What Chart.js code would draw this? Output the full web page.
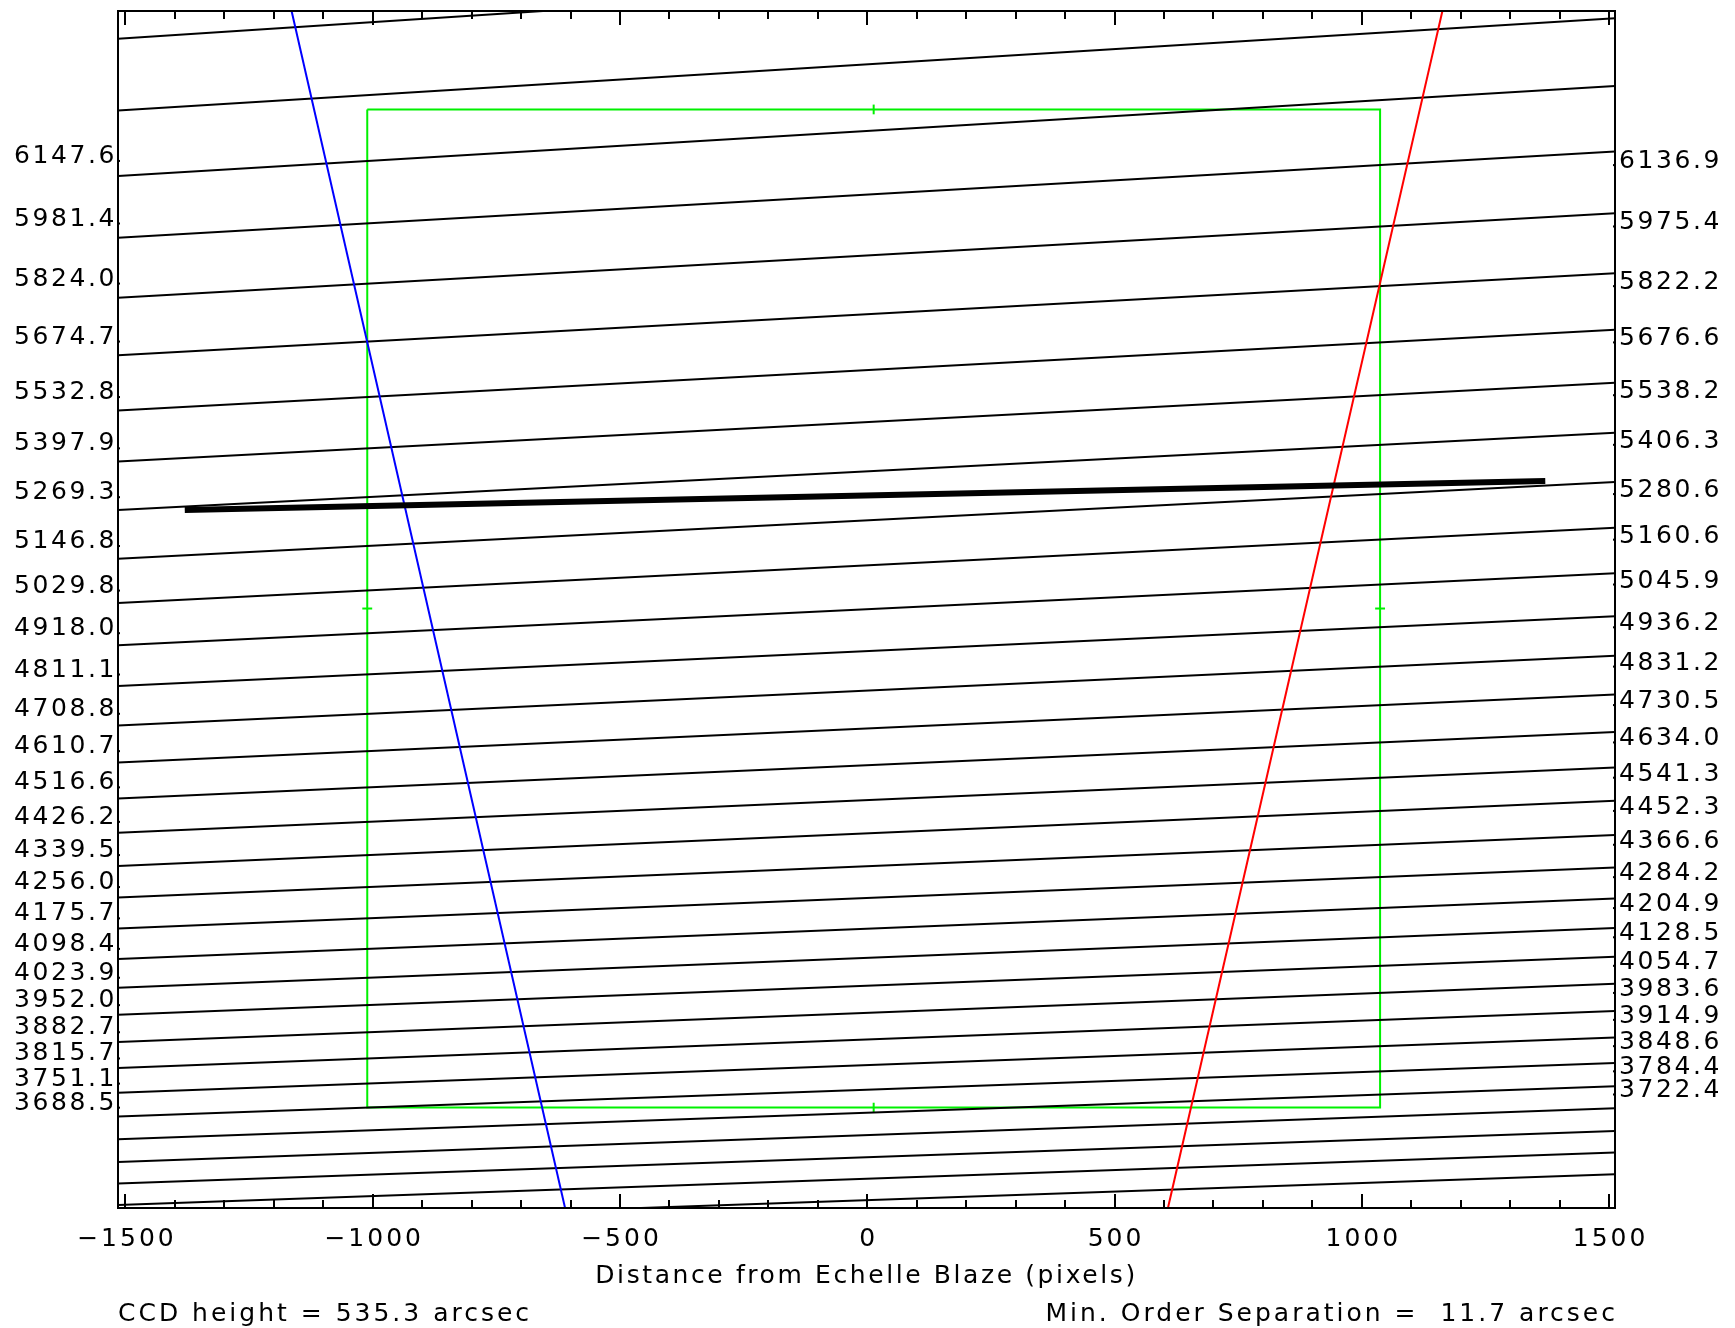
<!DOCTYPE html>
<html>
<head>
<meta charset="utf-8">
<script src="https://cdn.jsdelivr.net/npm/chart.js@4.4.1/dist/chart.umd.min.js"></script>
<style>
  html, body { margin: 0; padding: 0; background: #fff; }
  canvas { display: block; }
</style>
</head>
<body>
<canvas id="echelle" width="1735" height="1328"></canvas>
<script>
// axis ranges (pixels from echelle blaze / cross dispersion)
const xMin = -1515, xMax = 1512;
const yMin = -1230, yMax = 1226;
const xTicks = [-1500, -1000, -500, 0, 500, 1000, 1500];

// CCD outline
const ccdX = [-1011, 1037];
const ccdY = [-1024, 1024];

// order traces, y at the left and right plot edges
const orderLeftY = [1169.2, 1021.6, 887.6, 760.5, 637.9, 519.8, 406.3, 301.8, 202.0, 102.0,
  11.1, -75.2, -159.2, -239.8, -315.9, -389.6, -460.0, -528.2, -592.9, -656.5,
  -718.9, -778.0, -833.6, -889.2, -942.6, -993.7, -1042.5, -1089.0, -1135.6, -1179.8,
  -1224.1, -1267.3];
const orderRightY = [1369.2, 1210.9, 1072.2, 937.6, 811.1, 687.8, 572.0, 463.0, 360.8, 259.5,
  165.5, 72.4, -16.1, -96.7, -176.2, -253.4, -326.1, -394.2, -464.6, -531.6,
  -595.2, -655.3, -714.4, -770.0, -825.6, -880.1, -932.3, -980.0, -1025.4, -1072.0,
  -1116.3, -1160.5];

// wavelengths at the CCD edges (first labelled order index given)
const leftFirst = 2;
const leftWave = ["6147.6", "5981.4", "5824.0", "5674.7", "5532.8", "5397.9", "5269.3", "5146.8",
  "5029.8", "4918.0", "4811.1", "4708.8", "4610.7", "4516.6", "4426.2", "4339.5", "4256.0",
  "4175.7", "4098.4", "4023.9", "3952.0", "3882.7", "3815.7", "3751.1", "3688.5"];
const rightFirst = 3;
const rightWave = ["6136.9", "5975.4", "5822.2", "5676.6", "5538.2", "5406.3", "5280.6", "5160.6",
  "5045.9", "4936.2", "4831.2", "4730.5", "4634.0", "4541.3", "4452.3", "4366.6", "4284.2",
  "4204.9", "4128.5", "4054.7", "3983.6", "3914.9", "3848.6", "3784.4", "3722.4"];

// free spectral range limits
const fsrY = [1226, -1230];
const fsrBlueX = [-1164, -611];
const fsrRedX = [1163, 608];

// slit
const slitX = [-1380, 1371];
const slitY = [202.0, 261.6];

const ccdHeight = "535.3";
const minSep = "11.7";

const FONT = '25px "DejaVu Sans"';

function yAtX(i, x) {
  const t = (x - xMin) / (xMax - xMin);
  return orderLeftY[i] + (orderRightY[i] - orderLeftY[i]) * t;
}

const datasets = [];

// slit on top
datasets.push({
  data: slitX.map((x, k) => ({ x: x, y: slitY[k] })),
  borderColor: "#000", borderWidth: 6, order: 0
});
datasets.push({
  data: fsrBlueX.map((x, k) => ({ x: x, y: fsrY[k] })),
  borderColor: "#0000ff", borderWidth: 2, order: 1
});
datasets.push({
  data: fsrRedX.map((x, k) => ({ x: x, y: fsrY[k] })),
  borderColor: "#ff0000", borderWidth: 2, order: 1
});
orderLeftY.forEach((yl, i) => {
  datasets.push({
    data: [{ x: xMin, y: yl }, { x: xMax, y: orderRightY[i] }],
    borderColor: "#000", borderWidth: 2, order: 2
  });
});
datasets.push({
  data: [
    { x: ccdX[0], y: ccdY[1] }, { x: ccdX[1], y: ccdY[1] },
    { x: ccdX[1], y: ccdY[0] }, { x: ccdX[0], y: ccdY[0] },
    { x: ccdX[0], y: ccdY[1] }
  ],
  borderColor: "#00f000", borderWidth: 2, order: 3
});
// centre marks on the CCD edges
const cx = (ccdX[0] + ccdX[1]) / 2, cy = (ccdY[0] + ccdY[1]) / 2;
[
  [{ x: cx, y: ccdY[1] - 10 }, { x: cx, y: ccdY[1] + 10 }],
  [{ x: cx, y: ccdY[0] - 10 }, { x: cx, y: ccdY[0] + 10 }],
  [{ x: ccdX[0] - 10, y: cy }, { x: ccdX[0] + 10, y: cy }],
  [{ x: ccdX[1] - 10, y: cy }, { x: ccdX[1] + 10, y: cy }]
].forEach(seg => datasets.push({ data: seg, borderColor: "#00f000", borderWidth: 2, order: 3 }));

const frame = {
  id: "frame",
  beforeDraw(chart) {
    const c = chart.ctx;
    c.save();
    c.fillStyle = "#fff";
    c.fillRect(0, 0, chart.width, chart.height);
    c.restore();
  },
  afterDraw(chart) {
    const c = chart.ctx;
    const a = chart.chartArea;
    const xs = chart.scales.x, ys = chart.scales.y;
    c.save();
    c.strokeStyle = "#000";
    c.fillStyle = "#000";
    c.lineWidth = 2;
    c.strokeRect(a.left, a.top, a.right - a.left, a.bottom - a.top);

    // ticks, every 100 with majors every 500
    c.beginPath();
    for (let v = -1500; v <= 1500; v += 100) {
      const px = Math.round(xs.getPixelForValue(v));
      const len = (v % 500 === 0) ? 14 : 8;
      c.moveTo(px, a.bottom); c.lineTo(px, a.bottom - len);
      c.moveTo(px, a.top); c.lineTo(px, a.top + len);
    }
    c.stroke();

    c.font = FONT;
    c.textBaseline = "alphabetic";
    c.textAlign = "center";
    c.letterSpacing = "3px";
    xTicks.forEach(v => {
      const s = v < 0 ? "\u2212" + Math.abs(v) : String(v);
      c.fillText(s, xs.getPixelForValue(v) + 1.5, 1246);
    });
    c.letterSpacing = "2.6px";
    c.fillText("Distance from Echelle Blaze (pixels)", (a.left + a.right) / 2, 1283);
    c.letterSpacing = "3px";
    c.textAlign = "left";
    c.fillText("CCD height = " + ccdHeight + " arcsec", a.left, 1321);
    c.textAlign = "right";
    c.fillText("Min. Order Separation =  " + minSep + " arcsec", a.right + 3, 1321);

    // wavelength labels where the orders meet the CCD edges
    c.letterSpacing = "2.6px";
    leftWave.forEach((w, k) => {
      const py = ys.getPixelForValue(yAtX(leftFirst + k, ccdX[0]));
      c.textAlign = "right";
      c.fillText(w, a.left - 1, py + 2);
      c.fillRect(a.left, py - 1, 2, 2);
    });
    rightWave.forEach((w, k) => {
      const py = ys.getPixelForValue(yAtX(rightFirst + k, ccdX[1]));
      c.textAlign = "left";
      c.fillText(w, a.right + 4, py + 3);
      c.fillRect(a.right - 2, py - 1, 2, 2);
    });
    c.restore();
  }
};

new Chart(document.getElementById("echelle"), {
  type: "scatter",
  data: { datasets: datasets },
  options: {
    responsive: false,
    animation: false,
    devicePixelRatio: 1,
    layout: { padding: { left: 118, right: 120, top: 11, bottom: 120 } },
    elements: {
      line: { tension: 0, fill: false },
      point: { radius: 0, hoverRadius: 0 }
    },
    datasets: { scatter: { showLine: true, clip: 0 } },
    scales: {
      x: { type: "linear", min: xMin, max: xMax, display: false },
      y: { type: "linear", min: yMin, max: yMax, display: false }
    },
    plugins: { legend: { display: false }, tooltip: { enabled: false } },
    events: []
  },
  plugins: [frame]
});
</script>
</body>
</html>
